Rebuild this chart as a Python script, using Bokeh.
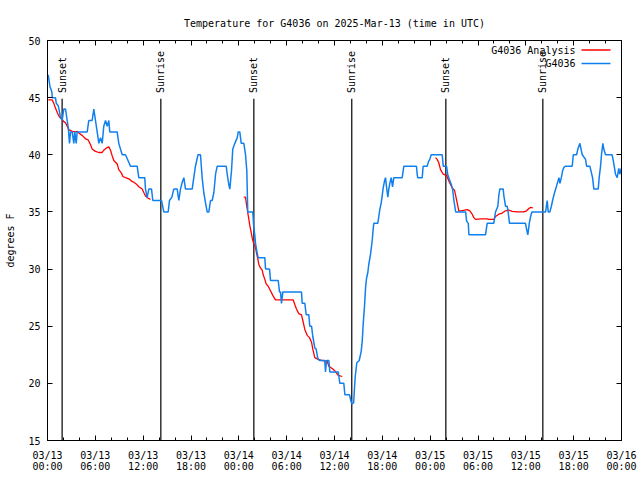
from datetime import datetime, timezone
import math
from bokeh.plotting import figure
from bokeh.models import (FixedTicker, DatetimeAxis, LinearAxis, Range1d, Label,
                          BoxAnnotation, DatetimeTickFormatter)
from bokeh.embed import file_html
from bokeh.resources import INLINE
from bokeh.core.properties import value

# ---------------- data ----------------
start_time = "2025-03-13 00:00"
end_time = "2025-03-16 00:00"

# observed station temperature (hours after 03/13 00:00 UTC, deg F)
blue_hours = [0.09, 0.30, 0.55, 0.60, 1.00, 1.10, 1.35, 1.60, 1.84, 2.04, 2.26, 2.47, 2.60, 2.76, 2.89,
              3.10, 3.30, 3.42, 3.60, 3.72, 4.98, 5.18, 5.60, 5.81, 6.02, 6.23, 6.44, 6.65, 6.86, 7.06,
              7.28, 7.49, 7.69, 7.81, 8.74, 8.94, 9.37, 9.78, 10.10, 10.41, 11.25, 11.45, 12.20, 12.29,
              12.50, 12.71, 13.05, 13.21, 14.30, 14.59, 15.14, 15.30, 15.60, 15.84, 16.27, 16.47, 16.68,
              16.90, 17.10, 17.31, 18.15, 18.35, 18.56, 18.88, 19.19, 19.40, 19.60, 19.82, 20.03, 20.24,
              20.45, 20.66, 20.87, 21.08, 21.29, 22.42, 22.54, 22.74, 22.87, 23.08, 23.24, 23.50, 23.80,
              23.92, 24.12, 24.30, 24.63, 24.84, 25.00, 25.12, 25.75, 25.88, 26.00, 26.10, 26.30, 26.43,
              27.26, 27.35, 27.85, 27.97, 28.94, 29.10, 29.23, 29.35, 29.52, 31.86, 31.95, 32.28, 32.45,
              32.78, 32.90, 33.12, 33.28, 33.53, 33.70, 33.90, 34.12, 34.78, 34.87, 35.00, 35.29, 35.42,
              36.47, 36.55, 36.67, 37.17, 37.30, 37.88, 38.05, 38.17, 38.40, 38.50, 38.60, 38.80, 39.10,
              39.35, 39.48, 39.60, 39.77, 39.90, 40.02, 40.18, 40.30, 40.52, 40.73, 40.85, 40.93, 41.43,
              41.56, 41.68, 41.86, 41.98, 42.11, 42.27, 42.40, 42.56, 42.69, 42.81, 42.94, 43.11, 43.28,
              43.44, 44.49, 44.70, 46.28, 46.37, 46.44, 47.00, 47.12, 47.62, 47.79, 47.95, 48.13, 49.51,
              49.64, 50.05, 50.22, 50.65, 50.81, 50.98, 51.20, 52.45, 52.57, 52.78, 52.86, 54.94, 55.15,
              55.98, 56.20, 56.49, 56.62, 56.74, 57.16, 57.23, 57.45, 57.66, 57.78, 57.95, 59.96, 60.09,
              60.25, 60.43, 60.60, 60.76, 62.48, 62.68, 62.81, 63.02, 63.20, 63.36, 63.53, 63.74, 63.95,
              64.15, 64.28, 64.45, 64.61, 64.78, 64.99, 65.82, 65.95, 66.36, 66.53, 66.78, 66.95, 67.08,
              67.49, 67.62, 68.03, 68.20, 68.37, 68.53, 69.08, 69.20, 69.37, 69.49, 69.66, 69.78, 69.99,
              70.83, 71.04, 71.25, 71.46, 71.66, 71.79, 71.96]
blue_temps = [47, 46, 45.5, 45, 45, 44.5, 44.3, 43.4, 43, 44, 44, 43, 42.4, 41, 42,
              42, 41, 42, 41, 42, 42, 43, 43, 44, 43, 42, 41, 41.5, 41, 42.5,
              43, 42.5, 43, 42, 42, 41, 40, 40, 39.5, 39, 39, 38, 38, 37,
              36.25, 37, 37, 36, 36, 35, 35, 36, 36.3, 37, 37, 36, 37,
              37.6, 38, 37, 37, 38, 39, 40, 40, 38, 36.7, 35.8, 35, 35,
              36, 36, 36.7, 38.3, 39, 39, 38.3, 37.4, 37, 38.6, 40.5, 41, 41.5,
              42, 42, 41, 41, 40, 38.6, 35, 35, 33.6, 33, 32.2, 31.4, 31,
              31, 30, 30, 29, 29, 28, 28, 27, 28, 28, 27, 27, 26,
              26, 25, 25, 24.1, 23.1, 23, 22.2, 22, 22, 21, 22, 22, 21,
              21, 20.6, 20, 20, 19, 19, 18.5, 18.2, 18.3, 19.5, 20.6, 21.8, 22,
              22.8, 23.7, 25.2, 26.8, 28.4, 29.2, 29.7, 30.4, 31.3, 32.5, 33.5, 34, 34,
              34.6, 35.2, 35.8, 36.4, 37.1, 37.7, 38, 37, 36.3, 37, 37.5, 38, 37.2,
              38, 38, 39, 39, 38.3, 38, 38, 39, 39, 39.4, 39.6, 40, 40,
              39, 39, 38.2, 37.4, 37, 36, 35, 35, 34.2, 34, 33, 33, 34,
              34, 35, 35.5, 36.5, 37, 37, 36.5, 35.5, 35.5, 35, 34, 34, 33.5,
              33, 34, 34.6, 35, 35, 36, 35, 35, 35.5, 36, 36.5, 37, 37.5,
              38, 37.5, 38, 38.6, 38.9, 39, 39, 40, 40, 40.5, 41, 40.4, 40,
              39.6, 39, 39, 38.5, 38, 37, 37, 38, 39, 40, 41, 40.5, 40,
              40, 39.2, 38.3, 38, 38.8, 38.3, 38.8]

# analysis temperature, three separate runs
red_hours_1 = [0.09, 0.59, 0.79, 1.00, 1.22, 1.42, 1.63, 1.84, 2.04, 2.26, 2.47, 2.67, 3.10, 3.51,
               3.72, 3.93, 4.35, 4.77, 5.10, 5.39, 5.60, 6.02, 6.44, 6.86, 7.06, 7.40, 7.69, 7.90,
               8.12, 8.32, 8.74, 8.94, 9.28, 9.45, 9.78, 10.20, 10.54, 10.83, 11.13, 11.45, 11.88,
               12.08, 12.29, 12.63, 12.92]
red_temps_1 = [44.8, 44.8, 44.5, 44.1, 43.7, 43.4, 43.2, 43.1, 42.9, 42.8, 42.5, 42.2, 42.05, 42.0,
               42.05, 41.9, 41.7, 41.4, 41.3, 40.9, 40.5, 40.3, 40.2, 40.2, 40.4, 40.6, 40.7, 40.4,
               39.9, 39.5, 39.2, 38.7, 38.4, 38.1, 38.0, 37.9, 37.7, 37.6, 37.45, 37.2, 37.0,
               36.7, 36.4, 36.2, 36.1]
red_hours_2 = [24.62, 24.84, 24.93, 25.13, 25.25, 25.38, 25.55, 25.68, 25.88, 26.09, 26.22, 26.38,
               26.51, 26.72, 26.93, 27.06, 27.26, 27.43, 27.68, 27.97, 28.26, 28.60, 30.82, 31.02,
               31.23, 31.52, 31.86, 32.03, 32.28, 32.58, 32.86, 33.12, 33.28, 33.53, 33.96, 34.46,
               35.09, 35.29, 35.71, 36.04, 36.47, 36.97]
red_temps_2 = [36.3, 36.3, 35.8, 34.9, 34.4, 33.8, 33.2, 32.7, 32.2, 31.9, 31.4, 30.9,
               30.4, 30.1, 29.9, 29.5, 29.1, 28.7, 28.5, 28.1, 27.7, 27.3, 27.3, 26.9,
               26.5, 26.1, 26.0, 25.5, 24.7, 24.2, 24.0, 23.6, 23.0, 22.25, 22.1, 22.0,
               21.95, 21.5, 21.3, 21.1, 20.7, 20.6]
red_hours_3 = [48.67, 48.88, 49.08, 49.30, 49.64, 50.05, 50.34, 50.77, 51.05, 51.18, 51.39, 51.59,
               51.89, 52.31, 52.65, 52.97, 53.27, 53.48, 53.69, 54.32, 55.16, 55.36, 55.98, 56.20,
               56.61, 57.04, 57.45, 57.87, 58.29, 58.92, 59.75, 60.09, 60.38, 60.59, 60.88]
red_temps_3 = [39.75, 39.6, 39.3, 38.7, 38.3, 38.2, 37.7, 37.1, 36.9, 36.5, 35.8, 35.1,
               35.1, 35.15, 35.2, 35.1, 34.8, 34.5, 34.35, 34.4, 34.4, 34.35, 34.35, 34.6,
               34.8, 34.9, 35.1, 35.15, 35.05, 35.0, 35.0, 35.1, 35.3, 35.4, 35.35]

event_names = ["Sunset", "Sunrise", "Sunset", "Sunrise", "Sunset", "Sunrise"]
event_times = ["2025-03-13 01:50", "2025-03-13 14:13", "2025-03-14 01:53",
               "2025-03-14 14:10", "2025-03-15 01:58", "2025-03-15 14:08"]

y_ticks = [15, 20, 25, 30, 35, 40, 45, 50]
series_names = ["G4036 Analysis", "G4036"]
series_colors = ["#ff0000", "#1080f0"]
title_text = "Temperature for G4036 on 2025-Mar-13 (time in UTC)"

# ---------------- helpers ----------------
def to_ms(s):
    return datetime.strptime(s, "%Y-%m-%d %H:%M").replace(tzinfo=timezone.utc).timestamp() * 1000.0

T0 = to_ms(start_time)
T1 = to_ms(end_time)
HOUR = 3600000.0

def hrs(lst):
    return [T0 + h * HOUR for h in lst]

FONT = "DejaVu Sans Mono"
FS = "10px"

p = figure(width=640, height=480, x_axis_type="datetime", output_backend="svg",
           toolbar_location=None, x_range=Range1d(T0, T1), y_range=Range1d(15, 50),
           min_border_left=47, min_border_right=19, min_border_top=40, min_border_bottom=40)
p.background_fill_color = "white"
p.border_fill_color = "white"
p.outline_line_color = "black"
p.grid.visible = False

p.title.text = title_text
p.title.align = "center"
p.title.text_font = FONT
p.title.text_font_size = FS
p.title.text_font_style = "normal"
p.title.text_color = "black"
p.title.standoff = 24

major_x = [T0 + h * HOUR for h in range(0, 73, 6)]
minor_x = [T0 + h * HOUR for h in range(0, 73, 2)]
fmt = DatetimeTickFormatter(hours="%m/%d\n%H:%M", hourmin="%m/%d\n%H:%M", days="%m/%d\n%H:%M",
                            minutes="%m/%d\n%H:%M", months="%m/%d\n%H:%M")

def style(ax, labels=True):
    ax.axis_line_color = "black"
    ax.major_tick_line_color = "black"
    ax.minor_tick_line_color = "black"
    ax.major_tick_in = 5
    ax.major_tick_out = 0
    ax.minor_tick_in = 3
    ax.minor_tick_out = 0
    ax.major_label_text_font = FONT
    if labels:
        ax.major_label_text_font_size = FS
        ax.major_label_text_color = "black"
    else:
        ax.major_label_text_font_size = "0px"
        ax.major_label_text_color = None
        ax.major_label_standoff = 0

xa = p.xaxis[0]
xa.ticker = FixedTicker(ticks=major_x, minor_ticks=minor_x)
xa.formatter = fmt
style(xa)
xa.major_label_standoff = 9
xa.major_label_text_line_height = 1.05

ya = p.yaxis[0]
ya.ticker = FixedTicker(ticks=y_ticks)
style(ya)
ya.major_label_standoff = 7
ya.axis_label = "degrees F"
ya.axis_label_text_font = FONT
ya.axis_label_text_font_size = FS
ya.axis_label_text_font_style = "normal"
ya.axis_label_text_color = "black"
ya.axis_label_standoff = 9

top = DatetimeAxis(ticker=FixedTicker(ticks=major_x, minor_ticks=minor_x), formatter=fmt)
style(top, labels=False)
p.add_layout(top, "above")

right = LinearAxis(ticker=FixedTicker(ticks=y_ticks))
style(right, labels=False)
p.add_layout(right, "right")

# sunrise / sunset markers
ev_ms = [to_ms(s) for s in event_times]
p.segment(x0=ev_ms, y0=[15] * len(ev_ms), x1=ev_ms, y1=[44.9] * len(ev_ms),
          line_color="black", line_width=1.2)
p.text(x=ev_ms, y=[45.4] * len(ev_ms), text=event_names, angle=math.pi / 2,
       text_align="left", text_baseline="middle", text_font=value(FONT),
       text_font_size=FS, text_color="black")

# series
for hh, tt in [(red_hours_1, red_temps_1), (red_hours_2, red_temps_2), (red_hours_3, red_temps_3)]:
    p.line(hrs(hh), tt, line_color=series_colors[0], line_width=1.3)
p.line(hrs(blue_hours), blue_temps, line_color=series_colors[1], line_width=1.5)

# key (gnuplot style: text right, sample line on the right)
for i, (name, col) in enumerate(zip(series_names, series_colors)):
    ytxt = 390.5 - i * 13.5
    p.add_layout(Label(x=528, y=ytxt, x_units="screen", y_units="screen", text=name,
                       text_align="right", text_baseline="middle", text_font=FONT,
                       text_font_size=FS, text_color="black"))
    p.add_layout(BoxAnnotation(left=534, right=563, bottom=ytxt - 0.75, top=ytxt + 0.75,
                               left_units="screen", right_units="screen",
                               bottom_units="screen", top_units="screen",
                               fill_color=col, fill_alpha=1, line_color=None))

open("out.html", "w").write(file_html(p, INLINE))
